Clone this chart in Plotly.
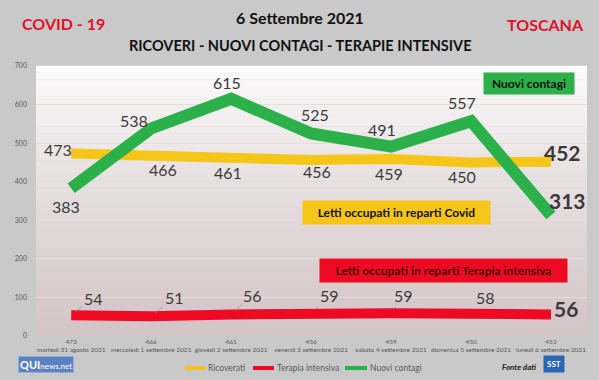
import plotly.graph_objects as go

categories = ["martedì 31 agosto 2021", "mercoledì 1 settembre 2021", "giovedì 2 settembre 2021",
              "venerdì 3 settembre 2021", "sabato 4 settembre 2021", "domenica 5 settembre 2021",
              "lunedì 6 settembre 2021"]
ricoverati = [473, 466, 461, 456, 459, 450, 452]
terapia = [54, 51, 56, 59, 59, 58, 56]
contagi = [383, 538, 615, 525, 491, 557, 313]
yticks = [0, 100, 200, 300, 400, 500, 600, 700]
series_names = ["Ricoverati", "Terapia intensiva", "Nuovi contagi"]

YEL = "#f5c518"
RED = "#ee0a23"
GRN = "#2bb04a"
FONT = "Lato"

xidx = list(range(len(categories)))
ticktext = [f"{r}<br>{c}" for r, c in zip(ricoverati, categories)]

fig = go.Figure()
fig.add_trace(go.Scatter(x=xidx, y=ricoverati, mode="lines", name=series_names[0],
                         line=dict(color=YEL, width=10)))
fig.add_trace(go.Scatter(x=xidx, y=terapia, mode="lines", name=series_names[1],
                         line=dict(color=RED, width=10)))
fig.add_trace(go.Scatter(x=xidx, y=contagi, mode="lines", name=series_names[2],
                         line=dict(color=GRN, width=12)))

def px(xp):
    return (xp - 36) / 551

def py(yp):
    return (336 - yp) / 270

# gradient background of plot area
shapes = []
n = 40
top = (253, 253, 253)
bot = (212, 197, 199)
for i in range(n):
    t = (i / (n - 1)) ** 0.8
    c = tuple(int(top[k] + (bot[k] - top[k]) * t) for k in range(3))
    shapes.append(dict(type="rect", xref="paper", yref="paper", x0=0, x1=1,
                       y0=1 - (i + 1) / n, y1=1 - i / n + 0.001, line=dict(width=0),
                       fillcolor=f"rgb{c}", layer="below"))

ann = []
lab = dict(font=dict(family=FONT, size=16, color="#3a3a3a"), showarrow=False, xref="x", yref="y")

ric_shift = [(-13, 4), (12, -13), (-3, -14), (6, -11), (-2, -15), (-9, -14)]
for i, (dx, dy) in enumerate(ric_shift):
    ann.append(dict(x=i, y=ricoverati[i], text=str(ricoverati[i]), xshift=dx, yshift=dy, **lab))
con_shift = [(-5, -18), (-17, 8), (-4, 16), (4, 19), (-9, 17), (-9, 19)]
for i, (dx, dy) in enumerate(con_shift):
    ann.append(dict(x=i, y=contagi[i], text=str(contagi[i]), xshift=dx, yshift=dy, **lab))
ter_shift = [(22, -17), (23, -19), (21, -19), (18, -18), (12, -18), (14, -16)]
for i, (dx, dy) in enumerate(ter_shift):
    ann.append(dict(x=i, y=terapia[i], text=str(terapia[i]), xref="x", yref="y",
                    font=dict(family=FONT, size=16, color="#3a3a3a"),
                    showarrow=True, ax=dx, ay=dy, arrowhead=0, arrowwidth=0.7,
                    arrowcolor="#8a8a8a", standoff=5))
big = dict(font=dict(family=FONT, size=21, color="#3a3a3a"), showarrow=False, xref="x", yref="y",
           xanchor="left")
last = len(xidx) - 1
ann.append(dict(x=last, y=ricoverati[last], text=f"<b>{ricoverati[last]}</b>", xshift=-9, yshift=9, **big))
ann.append(dict(x=last, y=contagi[last], text=f"<b>{contagi[last]}</b>", xshift=-4, yshift=15, **big))
ann.append(dict(x=last, y=terapia[last], text=f"<b>{terapia[last]}</b>", xshift=1, yshift=6, **big))

def box(x0, x1, y0, y1, text, bg, color):
    ann.append(dict(xref="paper", yref="paper", x=px(x0), y=py(y0), xanchor="left", yanchor="top",
                    width=x1 - x0, height=y1 - y0, text=f"<b>{text}</b>", bgcolor=bg, showarrow=False,
                    borderpad=0, align="center", valign="middle",
                    font=dict(family=FONT, size=12, color=color)))

box(483, 573, 72, 93, "Nuovi contagi", GRN, "#111111")
box(302, 489, 200, 223, "Letti occupati in reparti Covid", YEL, "#111111")
box(319, 566, 258, 281, "Letti occupati in reparti Terapia intensiva", RED, "#4a0000")

def ptext(x, y, text, size, color, xanchor="center", **kw):
    ann.append(dict(xref="paper", yref="paper", x=px(x), y=py(y), text=text, showarrow=False,
                    xanchor=xanchor, yanchor="middle",
                    font=dict(family=FONT, size=size, color=color), **kw))

ptext(300, 18, "<b>6 Settembre 2021</b>", 16, "#111111")
ptext(300, 45, "<b>RICOVERI - NUOVI CONTAGI - TERAPIE INTENSIVE</b>", 14.5, "#111111")
ptext(63, 23, "<b>COVID - 19</b>", 16, "#e0102a")
ptext(545, 25, "<b>TOSCANA</b>", 16, "#e0102a")
ptext(519, 367, "<b><i>Fonte dati</i></b>", 8, "#222222")

# manual legend
leg = [(185, 205, YEL), (253, 274, RED), (345, 367, GRN)]
for (x0, x1, col), name in zip(leg, series_names):
    shapes.append(dict(type="line", xref="paper", yref="paper", x0=px(x0), x1=px(x1),
                       y0=py(368), y1=py(368), line=dict(color=col, width=4)))
    ptext(x1 + 1, 368, name, 8.5, "#595959", xanchor="left")

ann.append(dict(xref="paper", yref="paper", x=px(46), y=py(364), xanchor="center", yanchor="middle",
                text="<b>QUI</b><span style='font-size:8px'>news.net</span>",
                showarrow=False, bgcolor="#5b82bf", bordercolor="#8fb0e0", borderwidth=1, borderpad=1,
                font=dict(family=FONT, size=11, color="white")))
ann.append(dict(xref="paper", yref="paper", x=px(554), y=py(364), xanchor="center", yanchor="middle",
                text="<b>SST</b>", showarrow=False, bgcolor="#2a64b5", borderpad=3,
                font=dict(family=FONT, size=8, color="white")))

fig.update_layout(
    width=599, height=380,
    margin=dict(l=36, r=12, t=66, b=44),
    paper_bgcolor="#c9c9c9",
    plot_bgcolor="rgba(0,0,0,0)",
    shapes=shapes,
    annotations=ann,
    font=dict(family=FONT, color="#595959"),
    showlegend=False,
    xaxis=dict(range=[-0.44, 6.45], tickmode="array", tickvals=xidx, ticktext=ticktext,
               tickangle=0, automargin=False,
               tickfont=dict(family=FONT, size=6.5, color="#595959"), showgrid=False, zeroline=False,
               showline=False, ticks=""),
    yaxis=dict(range=[0, 700], tickmode="array", tickvals=yticks, showgrid=True, gridcolor="#e6dcdd",
               gridwidth=1, zeroline=False, automargin=False,
               tickfont=dict(family=FONT, size=7, color="#595959"),
               ticklabelstandoff=8),
)
fig.write_html("out.html", config={"displayModeBar": False},
               post_script="document.body.style.margin='0';document.body.style.padding='0';")
